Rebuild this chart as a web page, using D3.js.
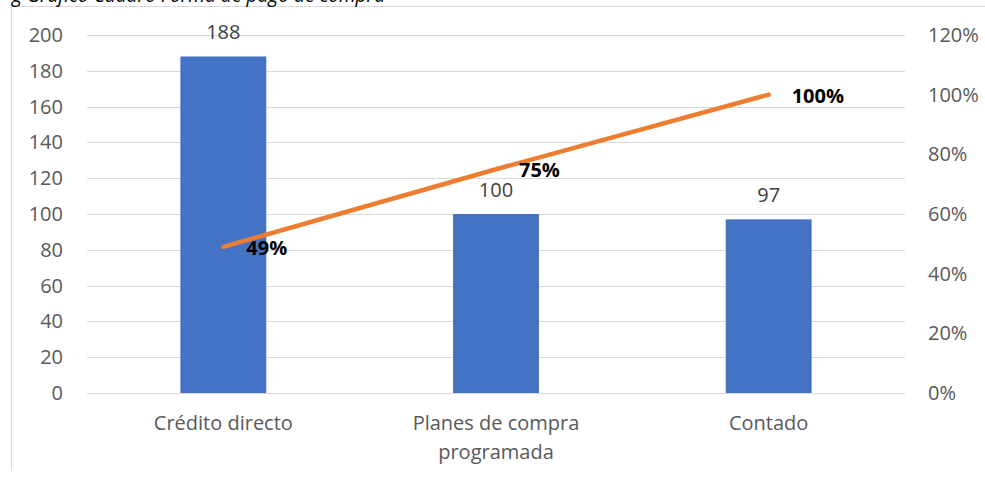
<!DOCTYPE html>
<html><head><meta charset="utf-8">
<script src="https://cdn.jsdelivr.net/npm/d3@7"></script>
<style>body{margin:0;background:#fff}svg{display:block}</style>
</head><body>
<svg id="c" width="985" height="477"></svg>
<script>
const categories = [["Crédito directo"], ["Planes de compra", "programada"], ["Contado"]];
const counts = [188, 100, 97];
const cumPct = [0.49, 0.75, 1.00];
const leftTicks = [0,20,40,60,80,100,120,140,160,180,200];
const rightTicks = [0,0.2,0.4,0.6,0.8,1.0,1.2];
const titleText = "g Gráfico Cuadro Forma de pago de compra";

(function(){
const svg = d3.select("#c");
const W=985,H=477;
const pLeft=87, pRight=905, pTop=35, pBottom=393;
const font = "'Open Sans', sans-serif";
const fs = 20;

// frame
svg.append("line").attr("x1",11.5).attr("x2",11.5).attr("y1",6).attr("y2",471).attr("stroke","#d9d9d9");
svg.append("line").attr("x1",11).attr("x2",W).attr("y1",6.5).attr("y2",6.5).attr("stroke","#d9d9d9");
svg.append("text").attr("x",12).attr("y",2).attr("font-family",font).attr("font-style","italic")
  .attr("font-size",20).attr("fill","#000").attr("textLength",373).attr("lengthAdjust","spacingAndGlyphs").text(titleText);

const x = d3.scaleBand().domain(d3.range(categories.length)).range([pLeft,pRight]).padding(0);
const y = d3.scaleLinear().domain([0,200]).range([pBottom,pTop]);
const y2 = d3.scaleLinear().domain([0,1.2]).range([pBottom,pTop]);

// grid
svg.append("g").selectAll("line").data(leftTicks).join("line")
  .attr("x1",pLeft).attr("x2",pRight)
  .attr("y1",d=>Math.round(y(d))+0.5).attr("y2",d=>Math.round(y(d))+0.5)
  .attr("stroke","#d9d9d9").attr("stroke-width",1);

// left axis
const ga = svg.append("g").attr("transform",`translate(${pLeft},0)`)
  .call(d3.axisLeft(y).tickValues(leftTicks).tickSize(0).tickPadding(24));
ga.select(".domain").remove();
ga.selectAll("text").attr("font-family",font).attr("font-size",fs).attr("fill","#595959");

const gb = svg.append("g").attr("transform",`translate(${pRight},0)`)
  .call(d3.axisRight(y2).tickValues(rightTicks).tickSize(0).tickPadding(23).tickFormat(d3.format(".0%")));
gb.select(".domain").remove();
gb.selectAll("text").attr("font-family",font).attr("font-size",fs).attr("fill","#595959");

// bars
const bw = x.bandwidth()*0.315;
svg.append("g").selectAll("rect").data(counts).join("rect")
  .attr("x",(d,i)=>x(i)+x.bandwidth()/2-bw/2).attr("width",bw)
  .attr("y",d=>y(d)).attr("height",d=>pBottom-y(d)).attr("fill","#4472C4");

svg.append("g").selectAll("text").data(counts).join("text")
  .attr("x",(d,i)=>x(i)+x.bandwidth()/2).attr("y",d=>y(d)-17)
  .attr("text-anchor","middle").attr("font-family",font).attr("font-size",fs).attr("fill","#404040")
  .text(d=>d);

// categories
const cg = svg.append("g");
categories.forEach((lines,i)=>{
  lines.forEach((t,j)=>{
    cg.append("text").attr("x",x(i)+x.bandwidth()/2).attr("y",430+j*29)
      .attr("text-anchor","middle").attr("font-family",font).attr("font-size",fs).attr("fill","#595959").text(t);
  });
});

// line
const line = d3.line().x((d,i)=>x(i)+x.bandwidth()/2).y(d=>y2(d));
svg.append("path").datum(cumPct).attr("d",line).attr("fill","none")
  .attr("stroke","#ED7D31").attr("stroke-width",4.5).attr("stroke-linecap","round");

svg.append("g").selectAll("text").data(cumPct).join("text")
  .attr("x",(d,i)=>x(i)+x.bandwidth()/2+23).attr("y",d=>y2(d)+8)
  .attr("font-family",font).attr("font-weight","bold").attr("font-size",20).attr("fill","#000")
  .text(d=>d3.format(".0%")(d));
})();
</script>
</body></html>
